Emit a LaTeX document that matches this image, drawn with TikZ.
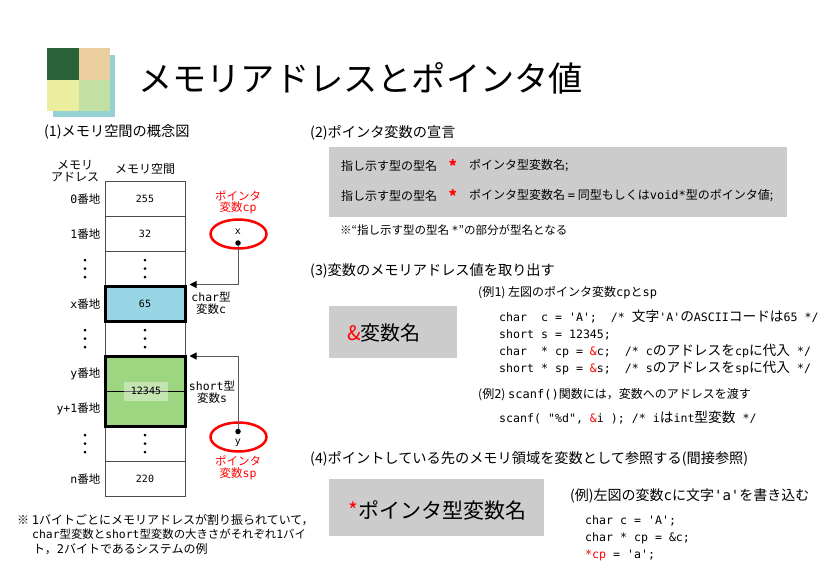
\documentclass[tikz,border=0pt]{standalone}
\usepackage{fontspec}
\setmainfont{Noto Sans CJK JP}
\newfontfamily\monofnt{DejaVu Sans Mono}
\newcommand{\m}[1]{{\monofnt #1}}
\newcommand{\rd}[1]{\textcolor{red}{#1}}
\newcommand{\fs}[1]{\fontsize{#1}{#1}\selectfont}
\newcommand{\jp}[1]{{\rmfamily\fs{13.7}#1}}
\definecolor{darkgreen}{HTML}{2B6338}
\definecolor{tan}{HTML}{EBCF9F}
\definecolor{paleyellow}{HTML}{EBEE9E}
\definecolor{palegreen}{HTML}{C1E0A1}
\definecolor{teal}{HTML}{95D0D3}
\definecolor{cellblue}{HTML}{98D6E6}
\definecolor{cellgreen}{HTML}{9DD580}
\definecolor{panel}{HTML}{CCCCCC}
\usetikzlibrary{arrows.meta}
\usetikzlibrary{shapes.geometric}
\tikzset{
  txt/.style={anchor=west, inner sep=0pt, font=\fs{12}},
  head/.style={anchor=west, inner sep=0pt, font=\fs{14.2}},
  code/.style={anchor=base west, yshift=-4pt, inner sep=0pt, font=\fs{11.6}},
  lab/.style={inner sep=0pt, align=center, font=\fs{11.5}},
  addr/.style={anchor=east, inner sep=0pt, font=\fs{11.5}},
  cell/.style={draw=black!70, fill=white, minimum width=80pt, minimum height=35pt, inner sep=0pt, font=\monofnt\fs{10}},
  hotcell/.style={cell, draw=black, line width=3pt},
  dotmark/.style={circle, fill=black, inner sep=0pt, minimum size=3pt},
  ptr/.style={draw=black!65, line width=1pt, -{Triangle[black,fill=black,length=7pt,width=7pt]}},
  pvar/.style={draw=red, line width=2.5pt, ellipse, minimum width=56pt, minimum height=29pt, inner sep=0pt, font=\monofnt\fs{10}},
  pin/.style={circle, fill=black, inner sep=0pt, minimum size=5.5pt}
}
\begin{document}
\begin{tikzpicture}[x=1pt, y=-1pt]
\useasboundingbox (0,0) rectangle (824,576);

%Logo
\fill[teal] (53,55) rectangle (115,117);
\fill[darkgreen] (47,48) rectangle (79,80);
\fill[tan] (79,48) rectangle (110,80);
\fill[paleyellow] (47,80) rectangle (79,111);
\fill[palegreen] (79,80) rectangle (110,111);
\node[anchor=west, inner sep=0pt, font=\fs{34.2}] (title) at (138,78) {メモリアドレスとポインタ値};

%Memory space
\node[head] (h1) at (44,132) {(1)メモリ空間の概念図};
\node[lab, font=\fs{12}] (addrhead) at (75,171) {メモリ\\[0pt]アドレス};
\node[lab, font=\fs{12}] (memhead) at (145,169) {メモリ空間};

\node[cell] (c0) at (145,198.5) {255};
\node[cell] (c1) at (145,233.5) {32};
\node[cell] (c2) at (145,268.5) {};
\node[cell] (c4) at (145,338.5) {};
\node[cell] (c7) at (145,443.5) {};
\node[cell] (c8) at (145,478.5) {220};
\node[hotcell, fill=cellblue] (varc) at (145,303.5) {65};
\node[hotcell, fill=cellgreen, minimum height=70pt] (vars) at (145,391) {};
\draw[black, line width=.6pt] (vars.west) -- (vars.east);
\fill[white, opacity=.4] (124,382) rectangle (168,401);
\node[inner sep=0pt, font=\monofnt\fs{10}] (vals) at (146,391) {12345};

\foreach \y/\txt in {199/\m{0}番地, 234/\m{1}番地, 304/\m{x}番地, 374/\m{y}番地, 409/\m{y+1}番地, 479/\m{n}番地}
  \node[addr] at (100.5,\y) {\txt};

% dots
\foreach \y in {260,330,435}
  \foreach \x in {85,145} {
    \node[dotmark] at (\x,\y) {};
    \node[dotmark] at (\x,\y+8.5) {};
    \node[dotmark] at (\x,\y+17) {};
  }

% pointers
\node[pvar] (cp) at (238.5,234) {};
\node[inner sep=0pt, font=\monofnt\fs{10}] (cpval) at (238,232) {x};
\node[pin] (cpdot) at (238,243) {};
\node[lab, text=red] (cplab) at (238,202.5) {ポインタ\\[0pt]変数\m{cp}};
\coordinate (ctip) at ([xshift=3pt]varc.north east);
\draw[ptr] (cpdot) |- (ctip);

\node[pvar] (sp) at (238.5,437) {};
\node[inner sep=0pt, font=\monofnt\fs{10}] (spval) at (238,443) {y};
\node[pin] (spdot) at (238,431.5) {};
\node[lab, text=red] (splab) at (238,468) {ポインタ\\[0pt]変数\m{sp}};
\coordinate (stip) at ([xshift=3pt,yshift=-1.5pt]vars.north east);
\draw[ptr] (spdot) |- (stip);

\node[lab] (clab) at (211,303) {\m{char}型\\[0pt]変数\m{c}};
\node[lab] (slab) at (212,392) {\m{short}型\\[0pt]変数\m{s}};

\node[txt] (n1) at (17,520) {※ \m{1}バイトごとにメモリアドレスが割り振られていて，};
\node[txt, font=\fs{11.4}] (n2) at (32,534) {\m{char}型変数と\m{short}型変数の大きさがそれぞれ\m{1}バイ};
\node[txt] (n3) at (33,549) {ト，\m{2}バイトであるシステムの例};

%Declaration
\node[head] (h2) at (310,133) {(2)ポインタ変数の宣言};
\fill[panel] (329,147) rectangle (787,217);
\node[txt] (d1) at (341,166) {指し示す型の型名};
\node[txt, text=red, font=\fs{16}\bfseries] (s1) at (448.5,166) {*};
\node[txt] (d2) at (469,166) {ポインタ型変数名;};
\node[txt] (d3) at (341,196) {指し示す型の型名};
\node[txt, text=red, font=\fs{16}\bfseries] (s2) at (448.5,196) {*};
\node[txt] (d4) at (469,196) {ポインタ型変数名 \m{=} 同型もしくは\m{void*}型のポインタ値;};
\node[txt, font=\fs{11.5}] (d5) at (340,230) {※“指し示す型の型名 \m{*}”の部分が型名となる};

%Address of
\node[head] (h3) at (310,271) {(3)変数のメモリアドレス値を取り出す};
\fill[panel] (329,306) rectangle (457,358);
\node[txt, font=\fs{20}] (amp) at (347,333) {\rd{\&}変数名};
\node[txt] (e1) at (478,293) {(例\m{1}) 左図のポインタ変数\m{cp}と\m{sp}};
\node[code] (l1) at (499,317) {\monofnt char~~c = 'A';~~/* \jp{文字}'A'\jp{の}ASCII\jp{コードは}65 */};
\node[code] (l2) at (499,334) {\monofnt short s = 12345;};
\node[code] (l3) at (499,351) {\monofnt char~~* cp = \rd{\&}c;~~/* c\jp{のアドレスを}cp\jp{に代入} */};
\node[code] (l4) at (499,368) {\monofnt short * sp = \rd{\&}s;~~/* s\jp{のアドレスを}sp\jp{に代入} */};
\node[txt] (e2) at (478,395) {(例\m{2}) \m{scanf()}関数には，変数へのアドレスを渡す};
\node[code] (l5) at (499,418) {\monofnt scanf( "\%d", \rd{\&}i ); /* i\jp{は}int\jp{型変数} */};

%Indirection
\node[head] (h4) at (310,459) {(4)ポイントしている先のメモリ領域を変数として参照する(間接参照)};
\fill[panel] (329,479) rectangle (544,536);
\node[txt, font=\fs{21}] (star) at (348,510) {\rd{*}ポインタ型変数名};
\node[txt, font=\fs{14}] (e3) at (570,496) {(例)左図の変数\m{c}に文字\m{'a'}を書き込む};
\node[code] (l6) at (585,520) {\monofnt char c = 'A';};
\node[code] (l7) at (585,537) {\monofnt char * cp = \&c;};
\node[code] (l8) at (585,554) {\monofnt \rd{*cp} = 'a';};

\end{tikzpicture}
\end{document}
